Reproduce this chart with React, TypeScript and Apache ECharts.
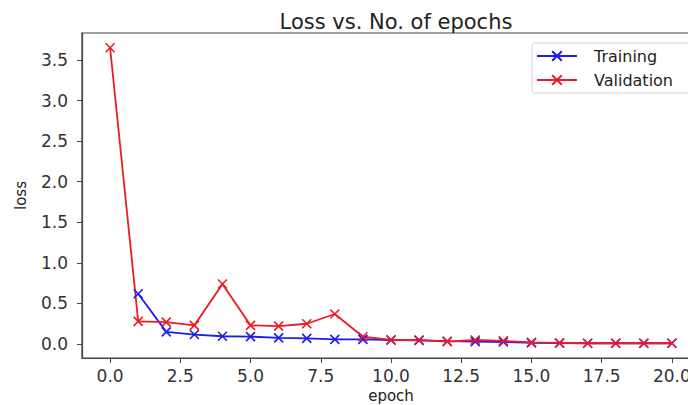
import React, { useEffect, useRef } from "react";
import * as echarts from "echarts";

const epochs = [0, 1, 2, 3, 4, 5, 6, 7, 8, 9, 10, 11, 12, 13, 14, 15, 16, 17, 18, 19, 20];
const trainingLoss = [null, 0.62, 0.15, 0.117, 0.096, 0.092, 0.076, 0.07, 0.058, 0.058, 0.05, 0.045, 0.035, 0.03, 0.025, 0.015, 0.012, 0.01, 0.01, 0.01, 0.01];
const validationLoss = [3.65, 0.28, 0.27, 0.23, 0.74, 0.23, 0.22, 0.25, 0.37, 0.09, 0.05, 0.05, 0.03, 0.05, 0.04, 0.02, 0.015, 0.01, 0.01, 0.01, 0.01];
const xTicks = [0, 2.5, 5, 7.5, 10, 12.5, 15, 17.5, 20];
const yTicks = [0, 0.5, 1, 1.5, 2, 2.5, 3, 3.5];
const seriesNames = ["Training", "Validation"];
const titleText = "Loss vs. No. of epochs";

const FONT = "DejaVu Sans";
const BLUE = "#1c1cf0";
const RED = "#ec1c24";
const XMARK = "path://M0,0L10,10M0,10L10,0";
const FRAME = "#444";

export default function App() {
  const ref = useRef<HTMLDivElement>(null);
  useEffect(() => {
    if (!ref.current) return;
    const chart = echarts.init(ref.current, undefined, { renderer: "svg" });
    const toPairs = (vals: (number | null)[]) =>
      epochs.map((e, i) => [e, vals[i]]).filter((p) => p[1] !== null);
    const mkSeries = (name: string, vals: (number | null)[], color: string) => ({
      name,
      type: "line",
      data: toPairs(vals),
      symbol: XMARK,
      symbolSize: 9,
      showSymbol: true,
      lineStyle: { color, width: 1.8 },
      itemStyle: { color, borderColor: color, borderWidth: 1.6 },
    });
    // matplotlib-style 5% margins
    const allVals = validationLoss.concat(trainingLoss.filter((v) => v !== null) as number[]);
    const yMaxData = Math.max(...allVals);
    const yMinData = Math.min(...allVals);
    const yPad = (yMaxData - yMinData) * 0.05;
    const xPad = (epochs[epochs.length - 1] - epochs[0]) * 0.05;
    chart.setOption({
      animation: false,
      backgroundColor: "#ffffff",
      title: {
        text: titleText,
        left: 391,
        top: 6,
        textAlign: "center",
        textStyle: { fontFamily: FONT, fontSize: 21, fontWeight: "normal", color: "#222" },
      },
      legend: {
        data: seriesNames,
        orient: "vertical",
        left: 532,
        top: 43,
        itemWidth: 40,
        itemHeight: 12,
        itemGap: 8,
        padding: [5, 30, 5, 4],
        borderColor: "#d6d6d6",
        borderWidth: 1,
        borderRadius: 3,
        textStyle: { fontFamily: FONT, fontSize: 16, color: "#222", padding: [0, 0, 0, 12] },
      },
      grid: {
        left: 82,
        right: -12,
        top: 33,
        bottom: 47,
        outerBoundsMode: "none",
        containLabel: false,
        show: true,
        borderColor: FRAME,
        borderWidth: 1.2,
        backgroundColor: "transparent",
      },
      xAxis: {
        type: "value",
        min: epochs[0] - xPad,
        max: epochs[epochs.length - 1] + xPad,
        name: "epoch",
        nameLocation: "middle",
        nameGap: 30,
        nameTextStyle: { fontFamily: FONT, fontSize: 15, color: "#222" },
        axisLine: { show: true, onZero: false, lineStyle: { color: FRAME, width: 1.2 } },
        axisTick: { show: true, length: 5, customValues: xTicks, lineStyle: { color: FRAME, width: 1 } },
        splitLine: { show: false },
        axisLabel: {
          customValues: xTicks,
          fontFamily: FONT,
          fontSize: 17,
          color: "#333",
          margin: 9,
          formatter: (v: number) => v.toFixed(1),
        },
      },
      yAxis: {
        type: "value",
        min: yMinData - yPad,
        max: yMaxData + yPad,
        name: "loss",
        nameLocation: "middle",
        nameGap: 54,
        nameTextStyle: { fontFamily: FONT, fontSize: 15, color: "#222" },
        axisLine: { show: true, onZero: false, lineStyle: { color: FRAME, width: 1.2 } },
        axisTick: { show: true, length: 5, customValues: yTicks, lineStyle: { color: FRAME, width: 1 } },
        splitLine: { show: false },
        axisLabel: {
          customValues: yTicks,
          fontFamily: FONT,
          fontSize: 17,
          color: "#333",
          margin: 14,
          formatter: (v: number) => v.toFixed(1),
        },
      },
      series: [
        mkSeries(seriesNames[0], trainingLoss, BLUE),
        mkSeries(seriesNames[1], validationLoss, RED),
      ],
    });
    return () => chart.dispose();
  }, []);
  return (
    <div
      ref={ref}
      style={{ position: "fixed", left: 0, top: 0, width: 688, height: 405, overflow: "hidden" }}
    />
  );
}
